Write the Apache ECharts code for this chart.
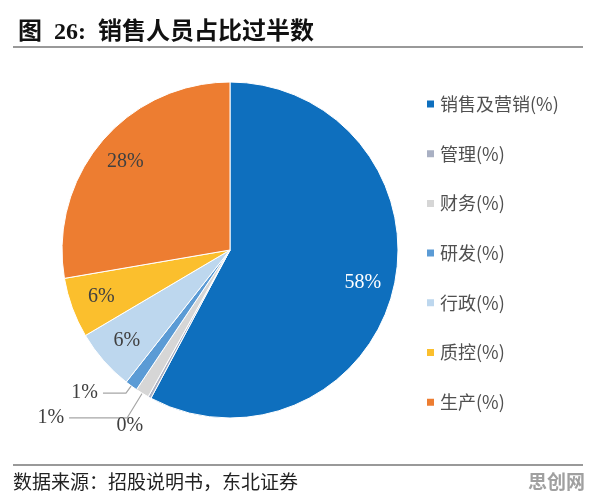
<!DOCTYPE html>
<html>
<head>
<meta charset="utf-8">
<script src="https://cdn.jsdelivr.net/npm/echarts@6/dist/echarts.min.js"></script>
<style>
  html, body { margin: 0; padding: 0; background: #fff; }
  #chartXsry { width: 596px; height: 503px; }
</style>
</head>
<body>
<div id="chartXsry"></div>
<script>
// 部门人员占比 (%)
const names = ['销售及营销', '管理', '财务', '研发', '行政', '质控', '生产']
const values = [57.8, 0.3, 1.3, 1.2, 5.9, 5.8, 27.7]
const colors = ['#0E6FBE', '#A9B0C3', '#D6D6D6', '#5B9BD5', '#BDD7EE', '#FBBF2D', '#ED7D31']
// 哪些扇区用外部标签
const outerIdx = [2, 3]

const serif = '"Liberation Serif", "Noto Sans CJK SC"'
const cjk = '"Noto Sans CJK SC"'
const R = 168

let chart = echarts.init(document.getElementById('chartXsry'))

let fmt = p => Math.round(p.value) + '%'

// 实际扇区 + 小扇区的引导线标签
let mainData = names.map((n, i) => {
  let d = { name: n + '(%)', value: values[i], itemStyle: { color: colors[i] } }
  if (i === 3) {
    d.label = { show: true }
    d.labelLine = { show: true, length: 9, length2: 23 }
  } else if (i === 2) {
    d.label = { show: true }
    d.labelLine = { show: true, length: 29, length2: 58 }
  } else {
    d.label = { show: false }
    d.labelLine = { show: false }
  }
  return d
})

// 透明叠加层，只负责内部标签和 0% 标签
let labelData = names.map((n, i) => {
  let d = { name: n + '(%)', value: values[i], itemStyle: { color: 'transparent' } }
  if (outerIdx.indexOf(i) >= 0) {
    d.label = { show: false }
  } else if (i === 1) {
    d.label = { show: true, position: 'outside', distanceToLabelLine: -9 }
    d.labelLine = { show: false, length: 32, length2: 0 }
  } else {
    d.label = { show: true, position: 'inside', color: i === 0 ? '#fff' : '#404040' }
  }
  return d
})

chart.setOption({
  animation: false,
  title: {
    text: '图  26:  销售人员占比过半数',
    left: 13,
    top: 16,
    textStyle: { fontFamily: serif, fontSize: 24, fontWeight: 'bold', color: '#111' }
  },
  legend: {
    orient: 'vertical',
    left: 425,
    top: 95,
    padding: 0,
    itemWidth: 9,
    itemHeight: 9,
    itemGap: 31.7,
    icon: 'rect',
    data: names.map(n => n + '(%)'),
    textStyle: { fontFamily: cjk, fontSize: 18, lineHeight: 18, color: '#505050' }
  },
  graphic: [
    { type: 'line', shape: { x1: 13, y1: 47, x2: 583, y2: 47 }, style: { stroke: '#777', lineWidth: 1.5 } },
    { type: 'line', shape: { x1: 13, y1: 465, x2: 583, y2: 465 }, style: { stroke: '#777', lineWidth: 1.5 } },
    { type: 'text', left: 13, top: 472, style: { text: '数据来源：招股说明书，东北证券', font: '19px ' + cjk, fill: '#222' } },
    { type: 'text', right: 11, top: 472, style: { text: '思创网', font: 'bold 19px ' + cjk, fill: '#a0a0a0' } }
  ],
  series: [
    {
      name: '占比',
      type: 'pie',
      center: [230, 250],
      radius: [0, R],
      startAngle: 90,
      clockwise: true,
      avoidLabelOverlap: false,
      itemStyle: { borderColor: '#fff', borderWidth: 1 },
      label: { formatter: fmt, fontFamily: serif, fontSize: 20, color: '#404040', distanceToLabelLine: 5 },
      labelLine: { lineStyle: { color: '#A6A6A6', width: 1.2 } },
      emphasis: { disabled: true },
      data: mainData
    },
    {
      name: '标签',
      type: 'pie',
      silent: true,
      center: [230, 250],
      radius: [100, R],
      startAngle: 90,
      clockwise: true,
      avoidLabelOverlap: false,
      label: { formatter: fmt, fontFamily: serif, fontSize: 20, color: '#404040' },
      emphasis: { disabled: true },
      data: labelData
    }
  ]
})
</script>
</body>
</html>
